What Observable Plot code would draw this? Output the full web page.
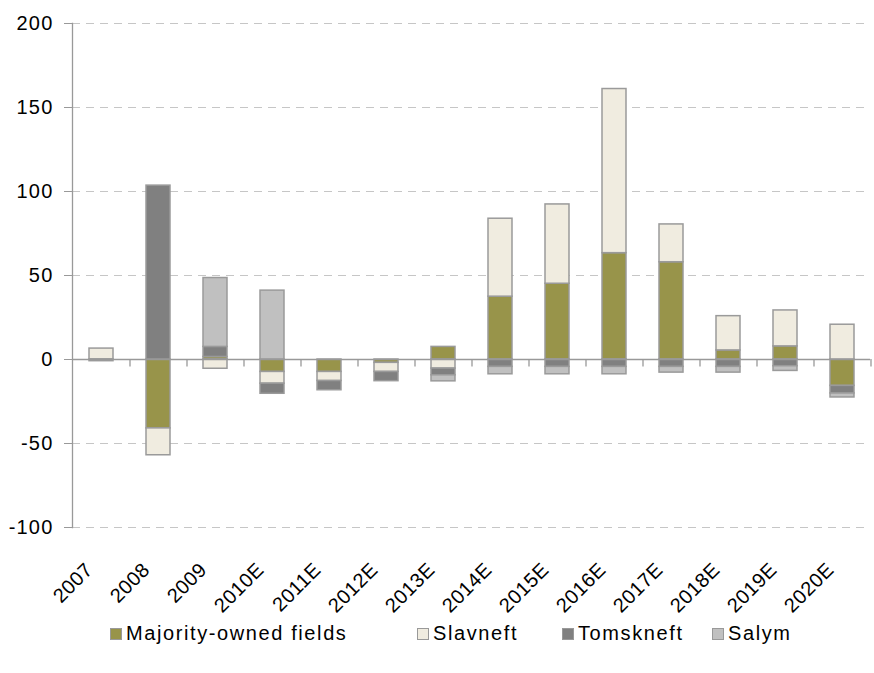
<!DOCTYPE html>
<html>
<head>
<meta charset="utf-8">
<script src="https://cdn.jsdelivr.net/npm/d3@7"></script>
<script src="https://cdn.jsdelivr.net/npm/@observablehq/plot@0.6"></script>
<style>
  html, body { margin: 0; padding: 0; background: #fff; }
  body { width: 874px; height: 673px; overflow: hidden; position: relative; font-family: "Liberation Sans", Arial, sans-serif; }
  #chart svg { overflow: visible; }
  #chart svg text { letter-spacing: 1.2px; }
  #chart svg .xlab text { letter-spacing: 0.5px; }
  #legend { position: relative; height: 53px; font-size: 20px; color: #000; letter-spacing: 1.6px; }
  #legend .item { position: absolute; top: 2px; display: flex; align-items: center; gap: 4px; white-space: nowrap; }
  #legend .sw { width: 10px; height: 10px; border: 1px solid #999; }
</style>
</head>
<body>
<div id="chart"></div>
<div id="legend"></div>
<script>
// Production change by year, split by asset group
const categories = ["2007","2008","2009","2010E","2011E","2012E","2013E","2014E","2015E","2016E","2017E","2018E","2019E","2020E"];
const seriesNames = ["Majority-owned fields","Slavneft","Tomskneft","Salym"];
const seriesColors = ["#98944a","#f0ece0","#808080","#c0c0c0"];

const majority  = [0, -41, 1.5, -7.4, -7.4, -2, 7.5, 37.4, 45.1, 63.3, 57.9, 5.4, 7.8, -15.7];
const slavneft  = [6.5, -16, -5.5, -7, -5.4, -5.4, -5.4, 46.4, 47.2, 97.7, 22.5, 20.4, 21.4, 20.7];
const tomskneft = [-1, 103.5, 6, -6, -5.5, -5.5, -4, -4.4, -4.4, -4.4, -4.4, -4.4, -4, -4.5];
const salym     = [0, 0, 41, 41, 0, 0, -3.6, -4.4, -4.4, -4.4, -3.4, -3.4, -2.8, -2.4];

const yTicks = [-100, -50, 0, 50, 100, 150, 200];

// Long table in series order, so the stack keeps that order per year
const seriesValues = [majority, slavneft, tomskneft, salym];
const rows = [];
categories.forEach((c, i) => {
  seriesNames.forEach((s, k) => {
    const v = seriesValues[k][i];
    if (v !== 0) rows.push({year: c, series: s, value: v});
  });
});

const W = 874, H = 620, mL = 72, mR = 4;
const step = (W - mL - mR) / categories.length;

const plot = Plot.plot({
  width: W,
  height: H,
  marginTop: 23,
  marginBottom: 93,
  marginLeft: mL,
  marginRight: mR,
  style: {fontFamily: "'Liberation Sans', Arial, sans-serif", fontSize: "20px", background: "#fff", color: "#000"},
  x: {domain: categories, paddingInner: 0.58, paddingOuter: 0.29, label: null},
  y: {domain: [-100, 200], label: null},
  color: {domain: seriesNames, range: seriesColors},
  marks: [
    Plot.ruleY(yTicks.filter(d => d !== 0), {stroke: "#c6c6c6", strokeDasharray: "8,6", strokeWidth: 1}),
    Plot.frame({anchor: "left", stroke: "#999", strokeWidth: 1.3}),
    Plot.barY(rows, {x: "year", y: "value", fill: "series", stroke: "#9a9a9a", strokeWidth: 1.5, order: null}),
    Plot.ruleY([0], {stroke: "#999", strokeWidth: 1.3}),
    // small category separators hanging below the zero line
    Plot.ruleX(categories.slice(1), {x: d => d, dx: -step / 2, y1: 0, y2: -4.4, stroke: "#999", strokeWidth: 1.3}),
    Plot.ruleX(categories.slice(-1), {x: d => d, dx: step / 2, y1: 0, y2: -4.4, stroke: "#999", strokeWidth: 1.3}),
    Plot.axisY({ticks: yTicks, tickSize: 8, tickPadding: 11, stroke: "#999", fill: "#000", fontSize: 20, label: null, tickFormat: d => String(d)}),
    Plot.axisX({tickSize: 0, tickPadding: 29, tickRotate: -45, fill: "#000", fontSize: 20, label: null, dx: -12, dy: 10, className: "xlab"})
  ]
});
document.getElementById("chart").appendChild(plot);

// Legend below the chart
const legendLeft = [110, 417, 562, 712];
const legend = document.getElementById("legend");
seriesNames.forEach((s, k) => {
  const item = document.createElement("div");
  item.className = "item";
  item.style.left = legendLeft[k] + "px";
  const sw = document.createElement("span");
  sw.className = "sw";
  sw.style.background = seriesColors[k];
  const t = document.createElement("span");
  t.textContent = s;
  item.appendChild(sw);
  item.appendChild(t);
  legend.appendChild(item);
});
</script>
</body>
</html>
